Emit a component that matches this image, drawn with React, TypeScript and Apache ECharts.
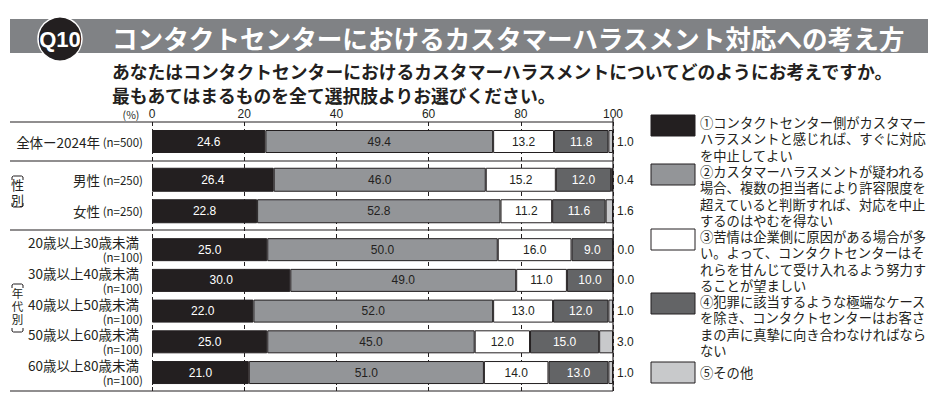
import React, { useEffect, useRef } from "react";
import * as echarts from "echarts";

// ---- data ----
const totalCats = ["全体ー2024年"];
const totalN = [500];
const genderCats = ["男性", "女性"];
const genderN = [250, 250];
const ageCats = ["20歳以上30歳未満", "30歳以上40歳未満", "40歳以上50歳未満", "50歳以上60歳未満", "60歳以上80歳未満"];
const ageN = [100, 100, 100, 100, 100];

// order: total, male, female, 20s, 30s, 40s, 50s, 60s
const opt1 = [24.6, 26.4, 22.8, 25.0, 30.0, 22.0, 25.0, 21.0];
const opt2 = [49.4, 46.0, 52.8, 50.0, 49.0, 52.0, 45.0, 51.0];
const opt3 = [13.2, 15.2, 11.2, 16.0, 11.0, 13.0, 12.0, 14.0];
const opt4 = [11.8, 12.0, 11.6, 9.0, 10.0, 12.0, 15.0, 13.0];
const opt5 = [1.0, 0.4, 1.6, 0.0, 0.0, 1.0, 3.0, 1.0];

const xTicks = [0, 20, 40, 60, 80, 100];

const titleText = "コンタクトセンターにおけるカスタマーハラスメント対応への考え方";
const subtitleLines = [
  "あなたはコンタクトセンターにおけるカスタマーハラスメントについてどのようにお考えですか。",
  "最もあてはまるものを全て選択肢よりお選びください。",
];

const legendNames = ["①", "②", "③", "④", "⑤"];
const legendLines = [
  ["①コンタクトセンター側がカスタマー", "ハラスメントと感じれば、すぐに対応", "を中止してよい"],
  ["②カスタマーハラスメントが疑われる", "場合、複数の担当者により許容限度を", "超えていると判断すれば、対応を中止", "するのはやむを得ない"],
  ["③苦情は企業側に原因がある場合が多", "い。よって、コンタクトセンターはそ", "れらを甘んじて受け入れるよう努力す", "ることが望ましい"],
  ["④犯罪に該当するような極端なケース", "を除き、コンタクトセンターはお客さ", "まの声に真摯に向き合わなければなら", "ない"],
  ["⑤その他"],
];

const COLORS = ["#231f20", "#939598", "#ffffff", "#636466", "#c8c9cb"];
const LABEL_COLORS = ["#ffffff", "#231f20", "#231f20", "#ffffff", "#231f20"];
const INK = "#231f20";
const JP = '"Noto Sans CJK JP", "Noto Sans", sans-serif';
const NUM = '"Liberation Sans", Arial, sans-serif';

export default function App() {
  const ref = useRef<HTMLDivElement>(null);

  useEffect(() => {
    if (!ref.current) return;
    const chart = echarts.init(ref.current, null, { renderer: "svg" });

    const allSeries = [opt1, opt2, opt3, opt4, opt5];
    const groups = [
      { cats: totalCats, n: totalN, from: 0, top: 122, height: 39, bw: 23, kind: "total" },
      { cats: genderCats, n: genderN, from: 1, top: 164, height: 63, bw: 24, kind: "gender" },
      { cats: ageCats, n: ageN, from: 3, top: 234.3, height: 153.6, bw: 23, kind: "age" },
    ];

    const grids: any[] = [{ left: 152, width: 461, top: 122, height: 269 }];
    const xAxes: any[] = [
      {
        gridIndex: 0,
        type: "value",
        position: "top",
        min: 0,
        max: 100,
        interval: 20,
        axisLine: { show: false },
        axisTick: { show: true, length: 4, lineStyle: { color: INK } },
        axisLabel: {
          margin: 2,
          fontSize: 12,
          color: INK,
          fontFamily: NUM,
          formatter: (v: number) => (xTicks.includes(v) ? String(v) : ""),
        },
        splitLine: { show: true, lineStyle: { color: INK, width: 1, type: [4, 3] } },
      },
    ];
    const yAxes: any[] = [{ gridIndex: 0, type: "value", show: false, min: 0, max: 1 }];
    const series: any[] = [];

    groups.forEach((g, gi) => {
      const idx = gi + 1;
      grids.push({ left: 152, width: 461, top: g.top, height: g.height });
      xAxes.push({ gridIndex: idx, type: "value", min: 0, max: 100, show: false });
      yAxes.push({
        gridIndex: idx,
        type: "category",
        data: g.cats,
        inverse: true,
        axisLine: { show: false },
        axisTick: { show: false },
        splitLine: { show: false },
        axisLabel: {
          margin: 9,
          color: INK,
          fontFamily: JP,
          formatter: (v: string, i: number) => {
            const n = g.n[i];
            if (g.kind === "age") return `{a|${v}}\n{b|(n=${n})}`;
            return `{a|${v}}{b| (n=${n})}`;
          },
          rich: {
            a: { fontSize: 13.5, color: INK, fontFamily: JP, lineHeight: 15, padding: g.kind === "age" ? [0, 4, 0, 0] : 0 },
            b: { fontSize: 11.5, color: INK, fontFamily: JP, lineHeight: 15 },
          },
        },
      });
      allSeries.forEach((arr, si) => {
        const data = arr.slice(g.from, g.from + g.cats.length);
        series.push({
          type: "bar",
          name: legendNames[si],
          xAxisIndex: idx,
          yAxisIndex: idx,
          stack: "s" + idx,
          barWidth: g.bw,
          data,
          itemStyle: { color: COLORS[si], borderColor: INK, borderWidth: 1 },
          label: {
            show: true,
            position: si === 4 ? "right" : "inside",
            distance: 4,
            color: LABEL_COLORS[si],
            fontSize: 12,
            fontFamily: NUM,
            formatter: (p: any) => Number(p.value).toFixed(1),
          },
          emphasis: { disabled: true },
        });
      });
    });

    const graphics: any[] = [];
    // title bar
    graphics.push({ type: "rect", shape: { x: 10, y: 19, width: 918, height: 34 }, style: { fill: "#808285" }, z: 1 });
    graphics.push({ type: "circle", shape: { cx: 60, cy: 39, r: 22 }, style: { fill: INK, stroke: "#ffffff", lineWidth: 1.5 }, z: 2 });
    graphics.push({
      type: "text", x: 60, y: 39, z: 3,
      style: { text: "Q10", fill: "#ffffff", fontSize: 22, fontWeight: "bold", fontFamily: '"Liberation Sans Narrow", "Liberation Sans", sans-serif', align: "center", verticalAlign: "middle" },
    });
    graphics.push({
      type: "text", x: 112, y: 37, z: 3,
      style: { text: titleText, fill: "#ffffff", fontSize: 25.6, fontWeight: "bold", fontFamily: JP, verticalAlign: "middle" },
    });
    subtitleLines.forEach((t, i) => {
      graphics.push({
        type: "text", x: 112, y: 71 + i * 24, z: 3,
        style: { text: t, fill: INK, fontSize: 17.8, fontWeight: "bold", fontFamily: JP, verticalAlign: "middle" },
      });
    });
    graphics.push({
      type: "text", x: 131, y: 114, z: 3,
      style: { text: "(%)", fill: INK, fontSize: 10.5, fontFamily: JP, align: "center", verticalAlign: "middle" },
    });
    // separators
    [122, 161, 230, 391].forEach((y) => {
      graphics.push({ type: "line", shape: { x1: 10, y1: y, x2: 613, y2: y }, style: { stroke: INK, lineWidth: 1.2 }, z: 5 });
    });
    graphics.push({ type: "line", shape: { x1: 613, y1: 118, x2: 613, y2: 391 }, style: { stroke: INK, lineWidth: 1.2 }, z: 5 });

    // bracket labels
    const bracket = (x1: number, x2: number, yTop: number, yBot: number) => {
      graphics.push({ type: "polyline", shape: { points: [[x1, yTop + 4], [x1, yTop + 1], [x1 + 1.5, yTop], [x2 - 1.5, yTop], [x2, yTop + 1], [x2, yTop + 4]] }, style: { stroke: INK, lineWidth: 1, fill: null }, z: 5 });
      graphics.push({ type: "polyline", shape: { points: [[x1, yBot - 4], [x1, yBot - 1], [x1 + 1.5, yBot], [x2 - 1.5, yBot], [x2, yBot - 1], [x2, yBot - 4]] }, style: { stroke: INK, lineWidth: 1, fill: null }, z: 5 });
    };
    bracket(12, 23, 176, 207);
    graphics.push({
      type: "text", x: 17.5, y: 191.5, z: 5,
      style: { text: "性\n別", fill: INK, fontSize: 13, lineHeight: 15, fontFamily: JP, align: "center", verticalAlign: "middle" },
    });
    bracket(12, 23, 284, 332);
    graphics.push({
      type: "text", x: 17.5, y: 306, z: 5,
      style: { text: "年\n代\n別", fill: INK, fontSize: 11.5, lineHeight: 13, fontFamily: JP, align: "center", verticalAlign: "middle" },
    });

    // legend
    const boxTops = [115, 164, 229, 293, 362];
    const textTops = [114, 163, 228, 293, 364];
    legendLines.forEach((lines, i) => {
      graphics.push({ type: "rect", shape: { x: 651, y: boxTops[i], width: 44, height: 21 }, style: { fill: COLORS[i], stroke: INK, lineWidth: 1 }, z: 5 });
      graphics.push({
        type: "text", x: 700, y: textTops[i], z: 5,
        style: { text: lines.join("\n"), fill: INK, fontSize: 13.3, lineHeight: 16.5, fontFamily: JP, verticalAlign: "top" },
      });
    });

    chart.setOption({
      animation: false,
      backgroundColor: "#ffffff",
      grid: grids,
      xAxis: xAxes,
      yAxis: yAxes,
      series,
      graphic: { elements: graphics },
    });

    return () => chart.dispose();
  }, []);

  return <div ref={ref} style={{ width: 948, height: 396, position: "absolute", left: 0, top: 0 }} />;
}
